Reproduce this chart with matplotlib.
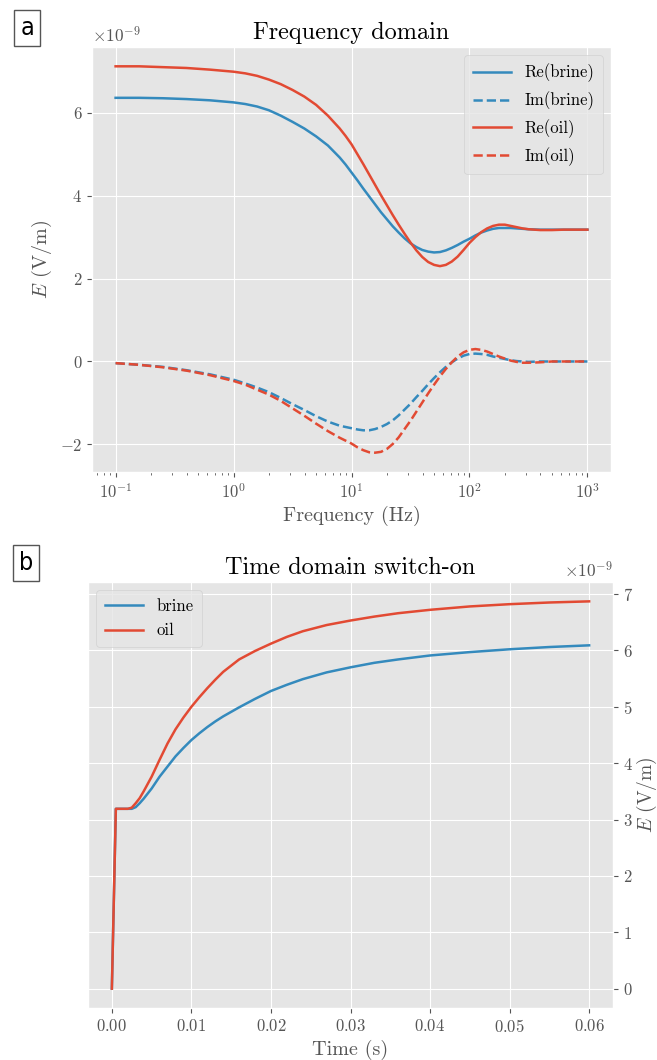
import matplotlib

matplotlib.use("Agg")
import matplotlib.pyplot as plt
import numpy as np

plt.style.use("ggplot")
plt.rcParams["font.family"] = "cmr10"
plt.rcParams["mathtext.fontset"] = "cm"
plt.rcParams["axes.formatter.use_mathtext"] = True
plt.rcParams["axes.unicode_minus"] = True

BLUE = "#348ABD"
RED = "#E24A33"

# frequency domain, log10(f / Hz), field values in 1e-9 V/m
log_freq = [-1.0, -0.8, -0.6, -0.4, -0.2, 0.0, 0.1, 0.2, 0.3, 0.4, 0.5, 0.6, 0.7, 0.8, 0.9,
            0.95, 1.0, 1.05, 1.1, 1.15, 1.2, 1.25, 1.3, 1.35, 1.4, 1.45, 1.5, 1.55, 1.6,
            1.65, 1.7, 1.75, 1.8, 1.85, 1.9, 1.95, 2.0, 2.05, 2.1, 2.15, 2.2, 2.25, 2.3,
            2.35, 2.4, 2.45, 2.5, 2.6, 2.7, 2.8, 3.0]
re_brine = [6.36, 6.36, 6.35, 6.33, 6.30, 6.25, 6.21, 6.15, 6.06, 5.93, 5.78, 5.62, 5.43, 5.21, 4.92,
            4.75, 4.56, 4.37, 4.17, 3.98, 3.79, 3.60, 3.43, 3.26, 3.11, 2.97, 2.85, 2.76, 2.69,
            2.65, 2.63, 2.64, 2.68, 2.74, 2.81, 2.89, 2.96, 3.04, 3.11, 3.16, 3.20, 3.22, 3.22,
            3.22, 3.21, 3.20, 3.19, 3.18, 3.18, 3.18, 3.18]
im_brine = [-0.04, -0.08, -0.13, -0.21, -0.31, -0.44, -0.53, -0.63, -0.74, -0.88, -1.03, -1.17, -1.32, -1.45, -1.55,
            -1.58, -1.61, -1.64, -1.66, -1.66, -1.63, -1.58, -1.51, -1.42, -1.30, -1.16, -1.02, -0.86, -0.71,
            -0.55, -0.40, -0.26, -0.13, -0.02, 0.07, 0.14, 0.18, 0.19, 0.18, 0.16, 0.12, 0.09, 0.06,
            0.03, 0.01, 0.0, -0.01, 0.0, 0.0, 0.0, 0.0]
re_oil = [7.12, 7.12, 7.10, 7.08, 7.04, 6.99, 6.95, 6.89, 6.80, 6.69, 6.55, 6.39, 6.19, 5.93, 5.62,
          5.44, 5.24, 5.00, 4.76, 4.51, 4.26, 4.01, 3.77, 3.53, 3.30, 3.08, 2.87, 2.68, 2.52,
          2.40, 2.33, 2.30, 2.33, 2.41, 2.53, 2.69, 2.86, 3.00, 3.12, 3.21, 3.27, 3.30, 3.30,
          3.27, 3.24, 3.21, 3.19, 3.17, 3.17, 3.18, 3.18]
im_oil = [-0.04, -0.08, -0.14, -0.22, -0.33, -0.47, -0.56, -0.68, -0.80, -0.95, -1.13, -1.31, -1.50, -1.68, -1.84,
          -1.91, -1.98, -2.07, -2.14, -2.19, -2.20, -2.18, -2.11, -1.99, -1.83, -1.63, -1.43, -1.21, -0.99,
          -0.77, -0.56, -0.36, -0.18, -0.02, 0.12, 0.22, 0.28, 0.30, 0.28, 0.24, 0.18, 0.12, 0.07,
          0.02, -0.01, -0.03, -0.03, -0.02, 0.0, 0.0, 0.0]

# time domain switch-on, seconds, field values in 1e-9 V/m
time = [0.0, 0.0005, 0.002, 0.0025, 0.003, 0.0035, 0.004, 0.005, 0.006, 0.007, 0.008, 0.009,
        0.010, 0.011, 0.012, 0.013, 0.014, 0.016, 0.018, 0.020, 0.022, 0.024, 0.027, 0.030,
        0.033, 0.036, 0.040, 0.045, 0.050, 0.055, 0.060]
td_brine = [0.0, 3.19, 3.19, 3.19, 3.22, 3.29, 3.37, 3.55, 3.76, 3.94, 4.12, 4.27,
            4.41, 4.53, 4.64, 4.74, 4.83, 4.99, 5.14, 5.28, 5.39, 5.49, 5.61, 5.70,
            5.78, 5.84, 5.91, 5.97, 6.02, 6.06, 6.09]
td_oil = [0.0, 3.19, 3.19, 3.21, 3.29, 3.38, 3.50, 3.76, 4.06, 4.35, 4.60, 4.81,
          5.00, 5.17, 5.33, 5.48, 5.62, 5.84, 5.99, 6.12, 6.24, 6.34, 6.45, 6.53,
          6.60, 6.66, 6.72, 6.78, 6.82, 6.85, 6.87]

W, H = 657, 1060
fig = plt.figure(figsize=(W / 100, H / 100), dpi=100)
fig.patch.set_facecolor("white")

freq = 10 ** np.array(log_freq)
scale = 1e-9

ax1 = fig.add_axes([92 / W, 1 - 472 / H, 519 / W, 425 / H])
ax1.plot(freq, np.array(re_brine) * scale, color=BLUE, lw=1.8, label="Re(brine)")
ax1.plot(freq, np.array(im_brine) * scale, color=BLUE, lw=1.8, ls="--", label="Im(brine)")
ax1.plot(freq, np.array(re_oil) * scale, color=RED, lw=1.8, label="Re(oil)")
ax1.plot(freq, np.array(im_oil) * scale, color=RED, lw=1.8, ls="--", label="Im(oil)")
ax1.set_xscale("log")
ax1.set_xlabel("Frequency (Hz)", fontsize=14.5)
ax1.set_ylabel("$E$ (V/m)", fontsize=14.5)
ax1.set_title("Frequency domain", fontsize=17.5)
ax1.tick_params(labelsize=12)
ax1.yaxis.get_offset_text().set_fontsize(12.5)
ax1.legend(loc="upper right", fontsize=12, handlelength=2.3, labelspacing=0.55,
           borderpad=0.5)

ax2 = fig.add_axes([88 / W, 1 - 1008 / H, 525 / W, 426 / H])
ax2.plot(time, np.array(td_brine) * scale, color=BLUE, lw=1.8, label="brine")
ax2.plot(time, np.array(td_oil) * scale, color=RED, lw=1.8, label="oil")
ax2.yaxis.tick_right()
ax2.yaxis.set_label_position("right")
ax2.yaxis.set_offset_position("right")
ax2.set_xlabel("Time (s)", fontsize=14.5)
ax2.set_ylabel("$E$ (V/m)", fontsize=14)
ax2.yaxis.set_label_coords((635 - 88) / 525, 0.5)
ax2.set_title("Time domain switch-on", fontsize=17.5)
ax2.tick_params(labelsize=12)
ax2.yaxis.get_offset_text().set_fontsize(12.5)
ax2.legend(loc="upper left", fontsize=12, handlelength=2.3, labelspacing=0.55,
           borderpad=0.5)

box = dict(boxstyle="square,pad=0.25", facecolor="white", edgecolor="#555555", lw=1)
for label, (px, py) in (("a", (27, 28)), ("b", (26, 563))):
    fig.text(px / W, 1 - py / H, label, ha="center", va="center", fontsize=18,
             family="DejaVu Sans", stretch="condensed", bbox=box)

fig.savefig("out.png", dpi=100)
